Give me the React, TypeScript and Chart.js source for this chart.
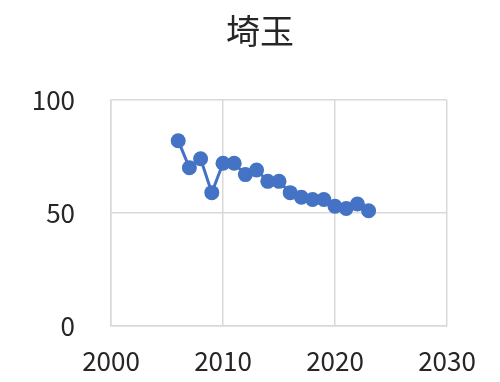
import React, { useEffect, useRef } from "react";
import { Chart, registerables } from "chart.js";

Chart.register(...registerables);

const TITLE = "埼玉";
const YEARS = [2006, 2007, 2008, 2009, 2010, 2011, 2012, 2013, 2014, 2015, 2016, 2017, 2018, 2019, 2020, 2021, 2022, 2023];
const VALUES = [82, 70, 74, 59, 72, 72, 67, 69, 64, 64, 59, 57, 56, 56, 53, 52, 54, 51];
const X_MIN = 2000;
const X_MAX = 2030;
const X_STEP = 10;
const Y_MIN = 0;
const Y_MAX = 100;
const Y_STEP = 50;

const FONT = '"Noto Sans CJK JP", "Noto Sans", sans-serif';

export default function App() {
  const ref = useRef<HTMLCanvasElement | null>(null);
  useEffect(() => {
    document.body.style.margin = "0";
    const ctx = ref.current!;
    const chart = new Chart(ctx, {
      type: "scatter",
      data: {
        datasets: [
          {
            data: YEARS.map((x, i) => ({ x, y: VALUES[i] })),
            showLine: true,
            borderColor: "#4472C4",
            backgroundColor: "#4472C4",
            borderWidth: 3,
            pointRadius: 7.5,
            pointHoverRadius: 7.5,
            pointBorderWidth: 0,
            yAxisID: "y",
          },
        ],
      },
      options: {
        animation: false,
        responsive: false,
        layout: { padding: { left: 20, right: 0, top: 0, bottom: 0 } },
        plugins: {
          legend: { display: false },
          tooltip: { enabled: false },
          title: {
            display: true,
            text: TITLE,
            color: "#262626",
            font: { family: FONT, size: 34, weight: "normal" },
            padding: { top: 10.6, bottom: 48.6 },
          },
        },
        scales: {
          x: {
            type: "linear",
            min: X_MIN,
            max: X_MAX,
            ticks: {
              stepSize: X_STEP,
              color: "#262626",
              font: { family: FONT, size: 26 },
              padding: 20,
              maxRotation: 0,
              callback: (v: any) => String(v),
            },
            grid: { color: "#d9d9d9", lineWidth: 1.5, drawTicks: false },
            border: { color: "#d9d9d9", width: 1.5 },
            afterFit: (s: any) => {
              s.height = 56;
            },
          },
          y: {
            min: Y_MIN,
            max: Y_MAX,
            ticks: {
              stepSize: Y_STEP,
              color: "#262626",
              font: { family: FONT, size: 26 },
              padding: 36,
            },
            grid: { color: "#d9d9d9", lineWidth: 1.5, drawTicks: false },
            border: { color: "#d9d9d9", width: 1.5 },
            afterFit: (s: any) => {
              s.width = 91;
            },
          },
          yRight: {
            position: "right",
            min: Y_MIN,
            max: Y_MAX,
            ticks: { display: false },
            grid: { display: false, drawTicks: false },
            border: { display: false },
            afterFit: (s: any) => {
              s.width = 53;
            },
          },
        },
      },
    });
    return () => chart.destroy();
  }, []);
  return (
    <div style={{ width: 500, height: 382, background: "#fff" }}>
      <canvas ref={ref} width={500} height={382} />
    </div>
  );
}
